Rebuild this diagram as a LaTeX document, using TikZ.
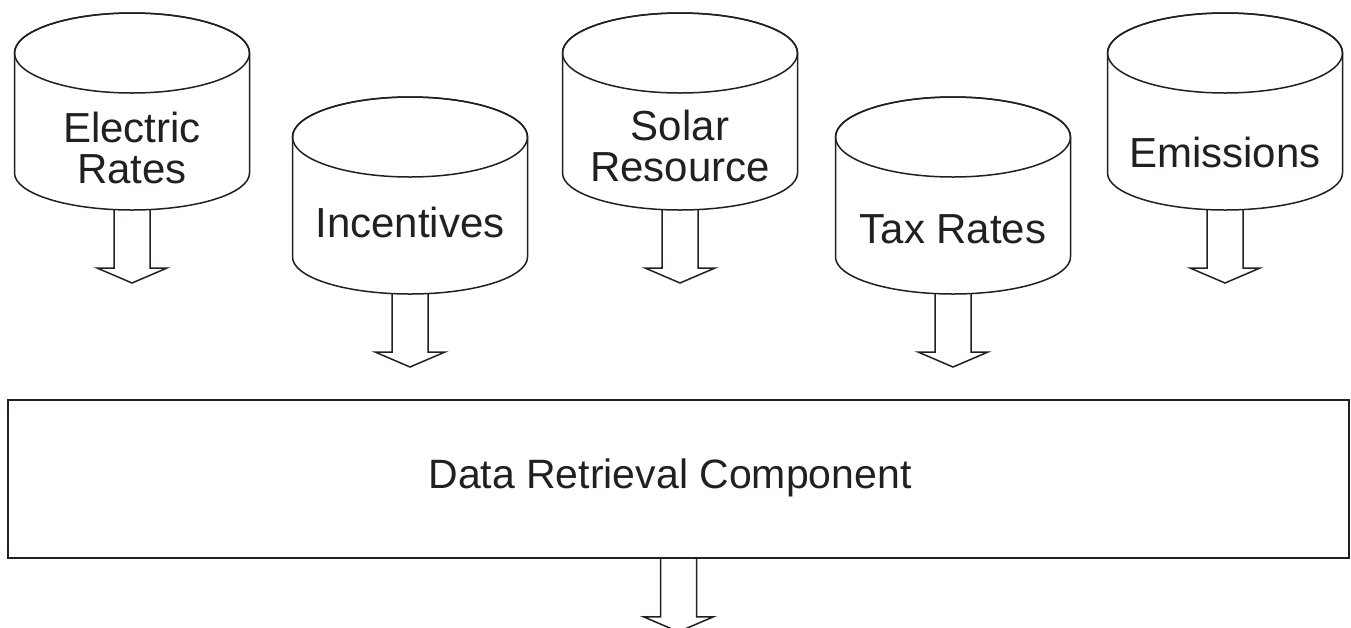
\documentclass[tikz,border=0pt]{standalone}
\usepackage{fontspec}
\setmainfont{Liberation Sans}
\definecolor{ink}{RGB}{35,31,32}
\tikzset{
  outline/.style={draw=ink, line width=1.5pt, line join=miter, fill=white},
  arrowline/.style={draw=ink, line width=1.5pt, line join=miter},
  dblabel/.style={font=\fontsize{42}{41}\selectfont, text=ink, align=center, inner sep=0pt},
  boxlabel/.style={font=\fontsize{41}{41}\selectfont, text=ink, inner sep=0pt, anchor=base},
  pics/downarrow/.style={code={
    \draw[arrowline] (-18,0) -- (-18,58) -- (-35,58) -- (0,73) -- (35,58) -- (18,58) -- (18,0);
  }},
}
\begin{document}
\begin{tikzpicture}[x=1pt,y=-1pt]
\useasboundingbox (0,0) rectangle (1351,627);

% data stores: name / centre x / centre y of the top ellipse
\foreach \n/\cx/\cy in {er/132/53, inc/410/137, sol/680/53, tax/953/137, emi/1225/53} {
  \draw[outline] (\cx-117.5,\cy) -- (\cx-117.5,\cy+120)
    arc[start angle=180, end angle=0, x radius=117.5, y radius=37]
    -- (\cx+117.5,\cy)
    arc[start angle=0, end angle=-180, x radius=117.5, y radius=40] -- cycle;
  \draw[arrowline] (\cx,\cy) ellipse[x radius=117.5, y radius=40];
  \coordinate (\n-out) at (\cx,\cy+157);
  \pic at (\n-out) {downarrow};
}

\node[dblabel] (er)  at (132,147.5) {Electric\\Rates};
\node[dblabel] (inc) at (410,222.5) {Incentives};
\node[dblabel] (sol) at (680,145.5) {Solar\\Resource};
\node[dblabel] (tax) at (953,229)   {Tax Rates};
\node[dblabel] (emi) at (1225,152.5) {Emissions};

% retrieval component and its output
\node[draw=ink, line width=1.5pt, minimum width=1341pt, minimum height=158pt,
      inner sep=0pt] (drc) at (678.5,479) {};
\node[boxlabel] (drc-text) at (670,488) {Data Retrieval Component};
\pic at (drc.south) {downarrow};
\end{tikzpicture}
\end{document}
